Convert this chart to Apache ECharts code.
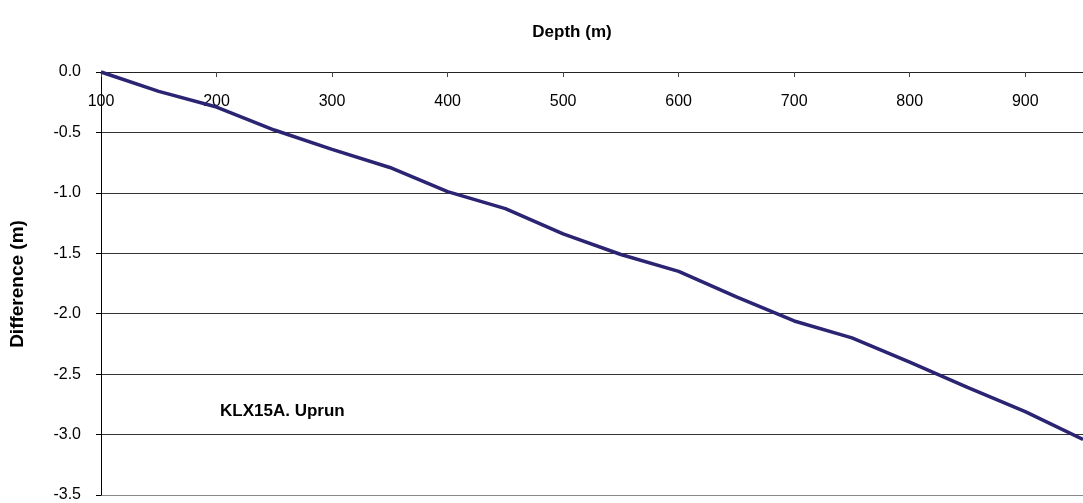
<!DOCTYPE html>
<html>
<head>
<meta charset="utf-8">
<script src="https://cdn.jsdelivr.net/npm/echarts@6/dist/echarts.min.js"></script>
<style>
html,body{margin:0;padding:0;background:#fff;}
#chart{width:1083px;height:503px;}
</style>
</head>
<body>
<div id="chart"></div>
<script>
const depths = [100,150,200,250,300,350,400,450,500,550,600,650,700,750,800,850,900,950];
const differences = [0,-0.16,-0.29,-0.48,-0.64,-0.79,-0.99,-1.13,-1.34,-1.51,-1.65,-1.86,-2.06,-2.20,-2.40,-2.61,-2.81,-3.04];
const xTitle = 'Depth (m)';
const yTitle = 'Difference (m)';
const note = 'KLX15A. Uprun';

const chart = echarts.init(document.getElementById('chart'), null, {renderer:'canvas'});
const font = 'Liberation Sans, Arial, sans-serif';
chart.setOption({
  animation:false,
  backgroundColor:'#fff',
  grid:{left:101, right:-8, top:72, bottom:8, containLabel:false},
  xAxis:{
    type:'value', position:'top', min:100, max:950, interval:100,
    axisLine:{show:true, onZero:false, lineStyle:{color:'#222', width:1}},
    axisTick:{show:true, inside:true, length:5, lineStyle:{color:'#444'}},
    axisLabel:{inside:true, margin:22, color:'#000', fontSize:16, fontFamily:font, showMaxLabel:false},
    splitLine:{show:false}
  },
  yAxis:{
    type:'value', min:-3.5, max:0, interval:0.5,
    axisLine:{show:true, onZero:false, lineStyle:{color:'#000', width:1}},
    axisTick:{show:true, length:5, lineStyle:{color:'#000'}},
    axisLabel:{margin:20, color:'#000', fontSize:16, fontFamily:font, formatter:v=>v.toFixed(1)},
    splitLine:{show:true, lineStyle:{color:['#888','#333','#333','#333','#333','#333','#333','#333'], width:1}}
  },
  series:[{
    type:'line', data:depths.map((d,i)=>[d,differences[i]]),
    showSymbol:false, lineStyle:{color:'#2b2473', width:3.5}, clip:false
  }],
  graphic:[
    {type:'text', x:572, y:24, style:{text:xTitle, font:'bold 17px '+font, fill:'#000', textAlign:'center'}},
    {type:'text', x:18, y:284, rotation:Math.PI/2, style:{text:yTitle, font:'bold 19px '+font, fill:'#000', textAlign:'center', textVerticalAlign:'middle'}},
    {type:'text', x:220, y:403, style:{text:note, font:'bold 17px '+font, fill:'#000'}}
  ]
});
</script>
</body>
</html>
